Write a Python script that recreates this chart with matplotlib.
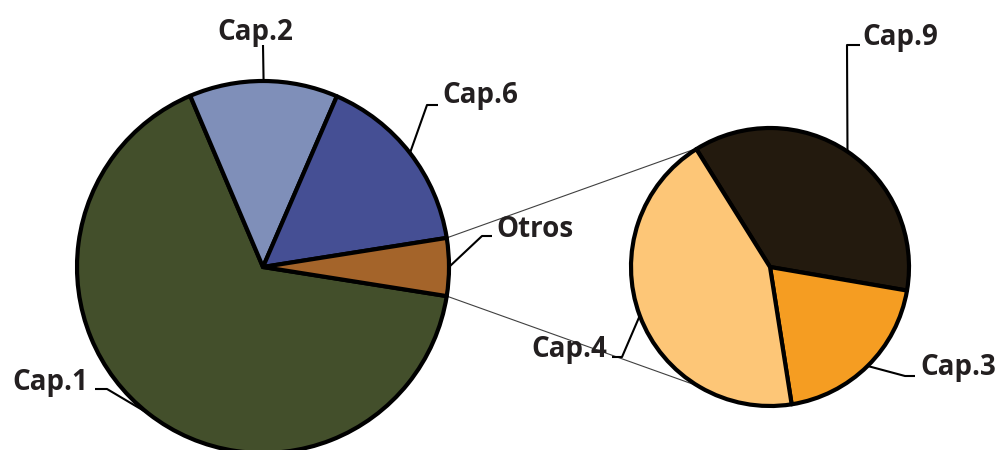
import numpy as np
import matplotlib.pyplot as plt

# Datos (% del total)
main_labels = ['Cap.1', 'Cap.2', 'Cap.6', 'Otros']
main_values = [66.1, 12.9, 16.0]
sub_labels = ['Cap.9', 'Cap.3', 'Cap.4']
sub_values = [1.83, 0.99, 2.18]

main_colors = ['#434f2b', '#7f8fb9', '#454f94', '#a4642a']
sub_colors = ['#231a0e', '#f59d22', '#fdc677']

otros = sum(sub_values)
main_all = main_values + [otros]

W, H = 1002, 450
fig = plt.figure(figsize=(W / 100, H / 100), dpi=100)
ax = fig.add_axes([0, 0, 1, 1])

def iy(y):
    # coordenada y de imagen -> coordenada de datos
    return H - y

main_c = (263, iy(267))
main_r = 186
sub_c = (770, iy(267))
sub_r = 139

otros_deg = otros / sum(main_all) * 360
wedge_kw = dict(linewidth=3, edgecolor='black', joinstyle='round')

main_w, _ = ax.pie(main_all, colors=main_colors, center=main_c, radius=main_r,
                   counterclock=False, startangle=360 - otros_deg / 2,
                   wedgeprops=wedge_kw)
sub_w, _ = ax.pie(sub_values, colors=sub_colors, center=sub_c, radius=sub_r,
                  counterclock=False, startangle=122, wedgeprops=wedge_kw)

for w in list(main_w) + list(sub_w):
    w.set_zorder(3)

# Lineas de conexion entre "Otros" y el segundo pastel
ow = main_w[-1]
for a_main, a_sub in [(ow.theta2, 121), (ow.theta1, -121)]:
    p0 = (main_c[0] + main_r * np.cos(np.radians(a_main)),
          main_c[1] + main_r * np.sin(np.radians(a_main)))
    p1 = (sub_c[0] + sub_r * np.cos(np.radians(a_sub)),
          sub_c[1] + sub_r * np.sin(np.radians(a_sub)))
    ax.plot([p0[0], p1[0]], [p0[1], p1[1]], color='#404040', lw=0.8, zorder=2)

# Posiciones de las etiquetas (pixeles de imagen): codos, texto, alineacion
layout = {
    'Cap.1': ([(107, 389), (95, 389)], (88, 390), 'right'),
    'Cap.2': ([(263, 45)], (255, 40), 'center'),
    'Cap.6': ([(427, 105), (438, 105)], (442, 103), 'left'),
    'Otros': ([(482, 236), (492, 236)], (496, 237), 'left'),
    'Cap.9': ([(847, 45), (860, 45)], (862, 45), 'left'),
    'Cap.3': ([(905, 376), (915, 376)], (920, 375), 'left'),
    'Cap.4': ([(622, 357), (612, 357)], (607, 357), 'right'),
}

def add_label(w, center, r, name):
    th = np.radians((w.theta1 + w.theta2) / 2)
    xs = [center[0] + r * np.cos(th)]
    ys = [center[1] + r * np.sin(th)]
    pts, tpos, ha = layout[name]
    for px, py in pts:
        xs.append(px)
        ys.append(iy(py))
    ax.plot(xs, ys, color='black', lw=1.5, zorder=4, solid_capstyle='butt')
    ax.text(tpos[0], iy(tpos[1]), name, ha=ha, va='baseline',
            fontsize=20, fontweight='bold', family='Open Sans', color='#231f20')

for w, name in zip(main_w, main_labels):
    add_label(w, main_c, main_r, name)
for w, name in zip(sub_w, sub_labels):
    add_label(w, sub_c, sub_r, name)

ax.set_xlim(0, W)
ax.set_ylim(0, H)
ax.set_aspect('equal')
ax.axis('off')

fig.savefig('out.png', dpi=100)
